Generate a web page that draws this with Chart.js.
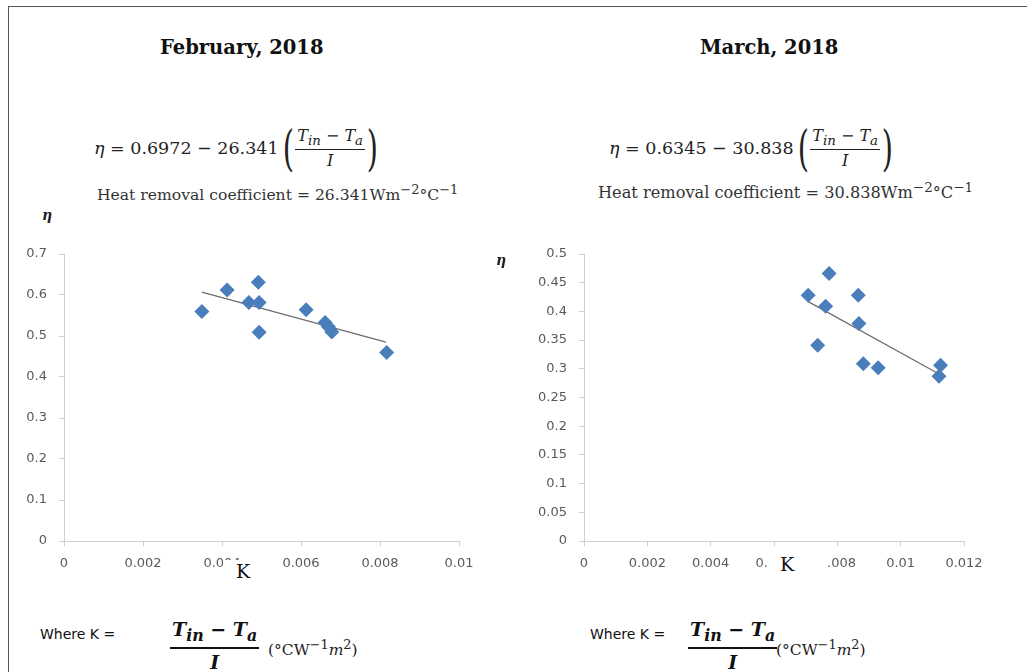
<!DOCTYPE html>
<html lang="en">
<head>
  <meta charset="UTF-8">
  <title>Heat removal coefficient – February / March 2018</title>
  <script src="https://cdn.jsdelivr.net/npm/chart.js@4/dist/chart.umd.min.js"></script>
  <style>
    html, body { margin: 0; padding: 0; background: #fff; }
    body { width: 1027px; height: 672px; position: relative; overflow: hidden; }
    .frame-top { position: absolute; left: 8px; top: 6px; right: 0; height: 1px; background: #555; }
    .frame-left { position: absolute; left: 8px; top: 6px; bottom: 0; width: 1px; background: #555; }
    .box { position: absolute; }
    .title { font-family: "DejaVu Serif", serif; font-weight: bold; font-size: 19.5px; color: #111; white-space: nowrap; }
    .eq { font-family: "DejaVu Serif", serif; font-size: 17.5px; color: #222; white-space: nowrap; display: flex; align-items: center; }
    .eq i { font-style: italic; }
    .paren { font-size: 48px; font-weight: 200; line-height: 48px; transform: scaleX(0.6); display: inline-block; }
    .frac { display: inline-flex; flex-direction: column; align-items: center; margin: 0 -2px; }
    .frac .num { border-bottom: 1.3px solid #222; padding: 0 2px 1px; font-size: 16px; }
    .frac .den { font-size: 16px; padding-top: 1px; }
    .coef { font-family: "DejaVu Serif", serif; color: #333; white-space: nowrap; }
    .eta { font-family: "DejaVu Serif", serif; font-weight: bold; font-style: italic; font-size: 14px; color: #222; }
    .klab { font-family: "DejaVu Serif", serif; font-size: 19px; color: #111; background: #fff; }
    .where { font-family: "DejaVu Sans", sans-serif; font-size: 14px; color: #111; white-space: nowrap; }
    .bfrac { display: inline-flex; flex-direction: column; align-items: center; font-family: "DejaVu Serif", serif; font-weight: bold; font-style: italic; font-size: 19px; color: #111; }
    .bfrac .num { border-bottom: 2px solid #111; padding: 0 2px 2px; }
    .bfrac .den { padding-top: 2px; }
    .unit { font-family: "DejaVu Serif", serif; font-size: 15.5px; color: #222; white-space: nowrap; }
    canvas { display: block; }
  </style>
</head>
<body>

<div class="frame-top"></div>
<div class="frame-left"></div>

<div class="box title" style="left:160px; top:36px;">February, 2018</div>
<div class="box title" style="left:700px; top:36px;">March, 2018</div>

<div class="box eq" style="left:94px; top:124px;">
  <i>η</i>&nbsp;=&nbsp;0.6972&nbsp;−&nbsp;26.341<span class="paren">(</span><span class="frac"><span class="num"><i>T<sub>in</sub></i> − <i>T<sub>a</sub></i></span><span class="den"><i>I</i></span></span><span class="paren">)</span>
</div>
<div class="box coef" style="left:97px; top:182px; font-size:15.6px;">Heat removal coefficient = 26.341Wm<sup>−2</sup>°C<sup>−1</sup></div>

<div class="box eq" style="left:609px; top:124px;">
  <i>η</i>&nbsp;=&nbsp;0.6345&nbsp;−&nbsp;30.838<span class="paren">(</span><span class="frac"><span class="num"><i>T<sub>in</sub></i> − <i>T<sub>a</sub></i></span><span class="den"><i>I</i></span></span><span class="paren">)</span>
</div>
<div class="box coef" style="left:598px; top:179px; font-size:16.2px;">Heat removal coefficient = 30.838Wm<sup>−2</sup>°C<sup>−1</sup></div>

<div class="box" style="left:0; top:240px; width:480px; height:345px;"><canvas id="febChart"></canvas></div>
<div class="box" style="left:500px; top:240px; width:500px; height:345px;"><canvas id="marChart"></canvas></div>

<div class="box eta" style="left:42px; top:207px;">η</div>
<div class="box eta" style="left:496px; top:252px;">η</div>

<div class="box klab" style="left:223px; top:560px; width:30px; height:26px; padding-left:13px;">K</div>
<div class="box klab" style="left:768px; top:553px; width:48px; height:24px; padding-left:12px;">K</div>

<div class="box where" style="left:40px; top:626px;">Where K =</div>
<div class="box bfrac" style="left:170px; top:618px;"><span class="num">T<sub>in</sub> − T<sub>a</sub></span><span class="den">I</span></div>
<div class="box unit" style="left:268px; top:637px;">(°CW<sup>−1</sup><i>m</i><sup>2</sup>)</div>

<div class="box where" style="left:590px; top:626px;">Where K =</div>
<div class="box bfrac" style="left:688px; top:618px;"><span class="num">T<sub>in</sub> − T<sub>a</sub></span><span class="den">I</span></div>
<div class="box unit" style="left:776px; top:637px;">(°CW<sup>−1</sup><i>m</i><sup>2</sup>)</div>

<script>
  // February 2018 measurements (K = (Tin - Ta)/I, efficiency)
  const febK   = [0.00349, 0.00413, 0.00468, 0.00492, 0.00494, 0.00494, 0.00613, 0.00661, 0.00670, 0.00678, 0.00817];
  const febEta = [0.560, 0.612, 0.582, 0.631, 0.582, 0.509, 0.564, 0.533, 0.522, 0.510, 0.460];
  const febTrendK   = [0.00349, 0.00815];
  const febTrendEta = [0.607, 0.485];

  // March 2018 measurements
  const marK   = [0.00708, 0.00774, 0.00763, 0.00738, 0.00866, 0.00868, 0.00882, 0.00929, 0.01126, 0.01121];
  const marEta = [0.428, 0.466, 0.409, 0.341, 0.428, 0.379, 0.309, 0.302, 0.306, 0.287];
  const marTrendK   = [0.00708, 0.01124];
  const marTrendEta = [0.417, 0.290];

  // axis ticks
  const febXTicks = [0, 0.002, 0.004, 0.006, 0.008, 0.01];
  const febYTicks = [0, 0.1, 0.2, 0.3, 0.4, 0.5, 0.6, 0.7];
  const marXTicks = [0, 0.002, 0.004, 0.006, 0.008, 0.01, 0.012];
  const marYTicks = [0, 0.05, 0.1, 0.15, 0.2, 0.25, 0.3, 0.35, 0.4, 0.45, 0.5];

  const pts = (xs, ys) => xs.map((x, i) => ({ x: x, y: ys[i] }));
  const fmt = v => String(+(+v).toFixed(4));
  // drop the label overhang padding so layout.padding alone places the plot area
  const noOverhang = s => { s.paddingTop = s.paddingBottom = s.paddingLeft = s.paddingRight = 0; };

  function makeChart(id, k, eta, tk, teta, xTicks, yTicks, yWidth, pad) {
    const axisColor = '#cfcfcf';
    const tickFont = { family: 'DejaVu Sans', size: 13 };
    return new Chart(document.getElementById(id), {
      type: 'scatter',
      data: {
        datasets: [{
          data: pts(k, eta),
          pointStyle: 'rectRot',
          pointRadius: 7.5,
          pointHoverRadius: 7.5,
          backgroundColor: '#4a7ebb',
          borderColor: '#4a7ebb',
          borderWidth: 0
        }, {
          type: 'line',
          data: pts(tk, teta),
          borderColor: '#6e6e6e',
          borderWidth: 1.3,
          pointRadius: 0,
          fill: false
        }]
      },
      options: {
        responsive: true,
        maintainAspectRatio: false,
        animation: false,
        layout: { autoPadding: false, padding: pad },
        plugins: { legend: { display: false }, tooltip: { enabled: false } },
        scales: {
          x: {
            type: 'linear',
            min: xTicks[0],
            max: xTicks[xTicks.length - 1],
            afterBuildTicks: s => { s.ticks = xTicks.map(v => ({ value: v })); },
            afterFit: s => { s.height = 44; noOverhang(s); },
            grid: { drawOnChartArea: false, color: axisColor, tickLength: 5 },
            border: { color: axisColor, width: 1 },
            ticks: { color: '#595959', font: tickFont, padding: 10, maxRotation: 0, autoSkip: false, callback: fmt }
          },
          y: {
            type: 'linear',
            min: yTicks[0],
            max: yTicks[yTicks.length - 1],
            afterBuildTicks: s => { s.ticks = yTicks.map(v => ({ value: v })); },
            afterFit: s => { s.width = yWidth; noOverhang(s); },
            grid: { drawOnChartArea: false, color: axisColor, tickLength: 5 },
            border: { color: axisColor, width: 1 },
            ticks: { color: '#595959', font: tickFont, padding: 12, autoSkip: false, callback: fmt }
          }
        }
      }
    });
  }

  makeChart('febChart', febK, febEta, febTrendK, febTrendEta, febXTicks, febYTicks, 64,
    { left: 0, top: 14, right: 21, bottom: 0 });
  makeChart('marChart', marK, marEta, marTrendK, marTrendEta, marXTicks, marYTicks, 84,
    { left: 0, top: 14, right: 36, bottom: 0 });
</script>

</body>
</html>
